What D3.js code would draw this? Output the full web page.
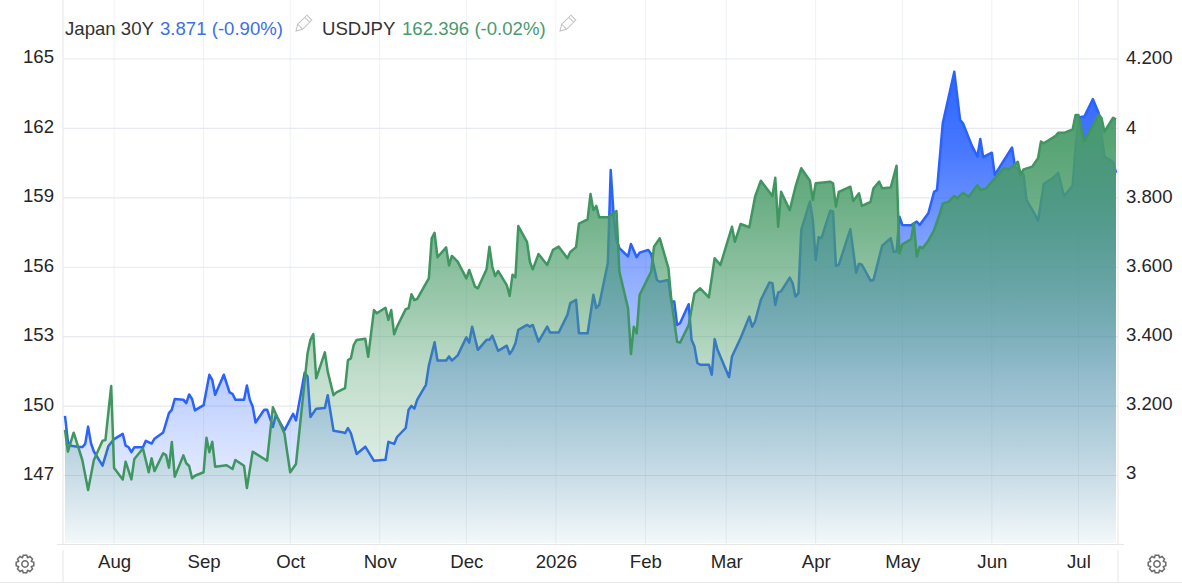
<!DOCTYPE html>
<html>
<head>
<meta charset="utf-8">
<title>Japan 30Y vs USDJPY</title>
<script src="https://cdn.jsdelivr.net/npm/d3@7"></script>
<style>
  html, body { margin: 0; padding: 0; background: #fff; }
  svg { display: block; font-family: "Liberation Sans", Arial, sans-serif; }
</style>
</head>
<body>
<svg id="chart" width="1182" height="584"></svg>
<script>
// Sessions as [days since the first date, close]
const firstDate = Date.UTC(2025, 6, 15);
const lastDay = 364;

const japan30y = [[0,3.168],[1,3.094],[2,3.082],[5,3.078],[6,3.078],[7,3.087],[8,3.137],[9,3.089],[10,3.065],[13,3.024],[15,3.080],[17,3.101],[20,3.116],[21,3.082],[22,3.078],[23,3.063],[24,3.077],[27,3.077],[28,3.096],[30,3.088],[31,3.102],[34,3.120],[36,3.176],[37,3.186],[38,3.217],[41,3.215],[42,3.205],[43,3.230],[44,3.217],[45,3.184],[48,3.199],[50,3.287],[51,3.272],[52,3.229],[55,3.287],[57,3.236],[58,3.232],[59,3.215],[62,3.215],[63,3.256],[64,3.215],[65,3.195],[66,3.149],[69,3.186],[70,3.186],[72,3.136],[73,3.171],[76,3.126],[79,3.174],[80,3.155],[83,3.293],[84,3.282],[85,3.165],[87,3.189],[90,3.191],[91,3.228],[93,3.125],[96,3.121],[97,3.118],[98,3.133],[99,3.118],[101,3.058],[104,3.079],[107,3.038],[111,3.041],[112,3.093],[114,3.087],[115,3.107],[118,3.133],[119,3.186],[120,3.197],[121,3.189],[122,3.215],[125,3.258],[126,3.313],[128,3.381],[129,3.328],[132,3.328],[133,3.340],[134,3.328],[136,3.343],[139,3.395],[140,3.380],[141,3.426],[143,3.359],[146,3.388],[147,3.388],[148,3.400],[150,3.356],[153,3.371],[154,3.347],[155,3.359],[156,3.378],[157,3.417],[160,3.431],[161,3.426],[162,3.431],[164,3.383],[167,3.426],[168,3.409],[171,3.409],[174,3.460],[175,3.494],[177,3.504],[178,3.407],[181,3.407],[183,3.518],[184,3.480],[185,3.489],[188,3.610],[189,3.879],[190,3.749],[191,3.677],[192,3.653],[195,3.629],[196,3.665],[198,3.627],[199,3.640],[202,3.648],[203,3.636],[205,3.561],[206,3.556],[209,3.561],[210,3.499],[211,3.499],[212,3.431],[213,3.436],[216,3.491],[217,3.388],[218,3.369],[219,3.321],[220,3.316],[223,3.316],[224,3.287],[225,3.390],[226,3.359],[230,3.280],[231,3.340],[234,3.393],[237,3.455],[238,3.426],[239,3.441],[241,3.504],[244,3.554],[245,3.552],[246,3.489],[247,3.525],[248,3.528],[251,3.568],[252,3.552],[253,3.513],[254,3.523],[255,3.706],[258,3.788],[259,3.735],[260,3.619],[261,3.685],[262,3.682],[265,3.761],[266,3.759],[267,3.602],[268,3.605],[272,3.708],[274,3.582],[275,3.608],[276,3.605],[279,3.559],[280,3.561],[283,3.660],[286,3.682],[287,3.643],[288,3.643],[289,3.744],[290,3.720],[293,3.719],[295,3.730],[296,3.720],[299,3.754],[301,3.816],[302,3.821],[304,4.014],[308,4.163],[310,4.024],[311,4.014],[314,3.951],[316,3.918],[317,3.969],[318,3.916],[321,3.929],[322,3.865],[328,3.944],[329,3.889],[332,3.865],[333,3.793],[336,3.749],[337,3.732],[339,3.839],[342,3.855],[344,3.871],[346,3.803],[349,3.834],[350,3.947],[351,4.029],[352,4.033],[353,4.033],[356,4.084],[358,4.044],[360,3.918],[363,3.903],[364,3.871]];

const usdjpy = [[0,148.97],[1,148.03],[3,148.85],[6,147.67],[8,146.37],[10,147.67],[13,148.50],[14,148.53],[16,150.87],[17,147.32],[20,146.83],[21,147.60],[23,146.83],[24,147.71],[27,148.17],[29,147.14],[30,147.74],[31,147.19],[34,147.96],[35,147.88],[36,147.34],[37,148.45],[38,146.95],[41,147.87],[42,147.53],[43,147.41],[44,146.88],[45,146.99],[48,147.14],[49,148.63],[50,148.01],[51,148.46],[52,147.38],[56,147.44],[58,147.28],[59,147.67],[62,147.42],[63,146.46],[65,148.03],[70,147.64],[72,149.95],[76,148.82],[77,147.96],[78,147.14],[80,147.50],[84,152.28],[85,152.86],[86,153.11],[87,151.20],[90,152.32],[91,151.49],[93,150.47],[94,150.59],[97,150.78],[98,151.99],[99,152.06],[100,152.64],[101,152.86],[104,152.91],[105,152.13],[107,154.15],[108,154.01],[111,154.25],[112,153.72],[113,154.15],[114,153.10],[115,153.43],[118,154.19],[119,154.23],[120,154.83],[121,154.58],[122,154.63],[126,155.52],[127,157.25],[128,157.49],[129,156.43],[132,156.86],[133,156.08],[134,156.49],[136,156.24],[139,155.52],[140,155.88],[142,155.16],[143,155.09],[146,155.91],[147,156.89],[148,156.02],[149,155.62],[150,155.84],[153,155.23],[154,154.76],[155,155.68],[156,155.56],[157,157.78],[160,157.10],[161,156.24],[162,155.91],[164,156.57],[167,156.10],[169,156.75],[171,156.89],[174,156.39],[175,156.66],[177,156.87],[178,157.89],[181,158.07],[182,159.17],[183,158.47],[184,158.65],[185,158.16],[188,158.16],[191,158.43],[192,155.81],[195,154.23],[196,152.25],[197,153.43],[198,153.14],[199,154.80],[203,155.81],[204,156.89],[206,157.25],[209,155.95],[210,154.58],[212,152.78],[213,152.74],[216,153.50],[218,154.87],[220,155.09],[223,154.70],[225,156.39],[227,156.10],[231,157.75],[232,157.10],[234,157.87],[237,157.73],[239,159.05],[241,159.74],[245,159.08],[246,159.87],[247,157.75],[248,159.26],[251,158.47],[253,159.48],[255,160.28],[258,159.74],[259,158.91],[260,159.63],[265,159.70],[266,159.63],[267,158.62],[268,159.26],[272,159.48],[273,158.86],[275,159.20],[276,158.65],[279,158.83],[280,159.41],[282,159.70],[283,159.41],[286,159.45],[288,160.39],[289,156.60],[290,156.99],[293,157.21],[294,157.90],[295,156.46],[296,156.89],[297,156.82],[299,157.15],[301,157.61],[303,158.33],[304,158.76],[306,158.83],[308,159.08],[309,158.98],[311,159.22],[313,159.05],[316,159.55],[317,159.34],[319,159.41],[322,159.84],[325,160.28],[327,160.23],[330,160.56],[331,159.99],[332,160.23],[335,160.35],[337,160.71],[338,161.43],[339,161.36],[343,161.67],[344,161.81],[346,161.81],[349,161.96],[350,162.58],[351,162.58],[353,161.43],[358,162.61],[359,162.44],[360,161.86],[363,162.46],[364,162.396]];

const leftTicks = [147, 150, 153, 156, 159, 162, 165];
const rightTicks = [3, 3.2, 3.4, 3.6, 3.8, 4, 4.2];
const rightTickLabels = ["3", "3.200", "3.400", "3.600", "3.800", "4", "4.200"];
const monthTicks = [[2025,7],[2025,8],[2025,9],[2025,10],[2025,11],[2026,0],[2026,1],[2026,2],[2026,3],[2026,4],[2026,5],[2026,6]];
const monthLabels = ["Aug", "Sep", "Oct", "Nov", "Dec", "2026", "Feb", "Mar", "Apr", "May", "Jun", "Jul"];

const legendEntries = [
  { name: "Japan 30Y", quote: "3.871 (-0.90%)", color: "#3d6fe6", nameX: 65, quoteX: 160, iconX: 303 },
  { name: "USDJPY", quote: "162.396 (-0.02%)", color: "#4a9a6c", nameX: 322, quoteX: 402, iconX: 567 }
];

const BLUE = "#2962ff";
const GREEN = "#3f9660";
const GREEN_FILL = "#4a9c69";
const GRID_H = "#e7e9ee";
const GRID_V = "#eef2f6";
const TEXT = "#262626";
const FONT_SIZE = "18.6px";

const plot = { left: 65, right: 1116, base: 543 };
const svg = d3.select("#chart");
const toDate = d => new Date(firstDate + d * 864e5);

const x = d3.scaleUtc().domain([toDate(0), toDate(lastDay)]).range([plot.left, plot.right]);
const yPrice = d3.scaleLinear().domain([147, 165]).range([475.5, 59]);
const yYield = d3.scaleLinear().domain([3, 4.2]).range([474, 59]);

const monthDates = monthTicks.map(([yr, mo]) => new Date(Date.UTC(yr, mo, 1)));

// Fill gradients run in page space so the fade follows height, not series range
const defs = svg.append("defs");
function fade(id, color, stops) {
  const g = defs.append("linearGradient").attr("id", id)
    .attr("gradientUnits", "userSpaceOnUse")
    .attr("x1", 0).attr("x2", 0).attr("y1", 0).attr("y2", plot.base);
  stops.forEach(([y, a]) => g.append("stop")
    .attr("offset", y / plot.base).attr("stop-color", color).attr("stop-opacity", a));
}
fade("fadeYield", BLUE, [[70, 0.98], [150, 0.86], [260, 0.55], [440, 0.2], [543, 0.02]]);
fade("fadePrice", GREEN_FILL, [[115, 0.97], [200, 0.82], [300, 0.56], [380, 0.33], [440, 0.23], [543, 0.04]]);

// Grid
svg.append("g").selectAll("line").data(monthDates).join("line")
  .attr("x1", d => x(d)).attr("x2", d => x(d)).attr("y1", 0).attr("y2", 544)
  .attr("stroke", GRID_V);
svg.append("g").selectAll("line").data(leftTicks).join("line")
  .attr("x1", 63).attr("x2", 1118).attr("y1", d => yPrice(d)).attr("y2", d => yPrice(d))
  .attr("stroke", GRID_H).attr("stroke-width", 1.2);

// Frame
const frame = svg.append("g").attr("stroke", "#e6e6e6").attr("fill", "none");
frame.append("path").attr("d", "M63,0V544M1118,0V544M57,544.5H1124");
frame.append("path").attr("d", "M63,550V582M1118,550V582M0,582.5H1182");

// Areas and lines, the yield first so USDJPY sits over it
function drawSeries(points, yScale, fill, stroke) {
  const gx = p => x(toDate(p[0]));
  svg.append("path").datum(points)
    .attr("d", d3.area().x(gx).y0(plot.base).y1(p => yScale(p[1])))
    .attr("fill", `url(#${fill})`);
  svg.append("path").datum(points)
    .attr("d", d3.line().x(gx).y(p => yScale(p[1])))
    .attr("fill", "none").attr("stroke", stroke).attr("stroke-width", 2.5)
    .attr("stroke-linejoin", "round");
}
drawSeries(japan30y, yYield, "fadeYield", BLUE);
drawSeries(usdjpy, yPrice, "fadePrice", GREEN);

// Axes
function styleAxis(g) {
  g.select(".domain").remove();
  g.selectAll(".tick line").remove();
  g.selectAll("text").attr("fill", TEXT).style("font-size", FONT_SIZE)
    .style("font-family", '"Liberation Sans", Arial, sans-serif');
}
svg.append("g").attr("transform", "translate(54,-2)")
  .call(d3.axisLeft(yPrice).tickValues(leftTicks).tickSize(0).tickPadding(0))
  .call(styleAxis);
svg.append("g").attr("transform", "translate(1126,-1)")
  .call(d3.axisRight(yYield).tickValues(rightTicks).tickSize(0).tickPadding(0)
    .tickFormat((d, i) => rightTickLabels[i]))
  .call(styleAxis);
svg.append("g").attr("transform", "translate(0,555)")
  .call(d3.axisBottom(x).tickValues(monthDates).tickSize(0).tickPadding(0)
    .tickFormat((d, i) => monthLabels[i]))
  .call(styleAxis);

// Legend
const legend = svg.append("g").style("font-size", FONT_SIZE);
legendEntries.forEach(e => {
  legend.append("text").attr("x", e.nameX).attr("y", 35).attr("fill", "#333").text(e.name);
  legend.append("text").attr("x", e.quoteX).attr("y", 35).attr("fill", e.color).text(e.quote);
  const pencil = legend.append("g")
    .attr("transform", `translate(${e.iconX},24) rotate(45)`)
    .attr("fill", "#fff").attr("stroke", "#c4c4c4").attr("stroke-width", 1);
  pencil.append("path").attr("d", "M-3.5,-9H3.5V4L0,10L-3.5,4Z");
  pencil.append("path").attr("d", "M-3.5,-6H3.5M-3.5,4H3.5").attr("fill", "none");
});

// Settings cogs
const cogRadial = d3.lineRadial().curve(d3.curveLinearClosed);
const cogOutline = d3.range(8).flatMap(i => {
  const a = i * Math.PI / 4;
  return [[a - 0.38, 6.8], [a - 0.2, 9], [a + 0.2, 9], [a + 0.38, 6.8]];
});
[25, 1157].forEach(cx => {
  const cog = svg.append("g").attr("transform", `translate(${cx},564)`)
    .attr("fill", "none").attr("stroke", "#6b6b6b").attr("stroke-width", 1.5);
  cog.append("path").attr("d", cogRadial(cogOutline));
  cog.append("circle").attr("r", 3.2);
});
</script>
</body>
</html>
